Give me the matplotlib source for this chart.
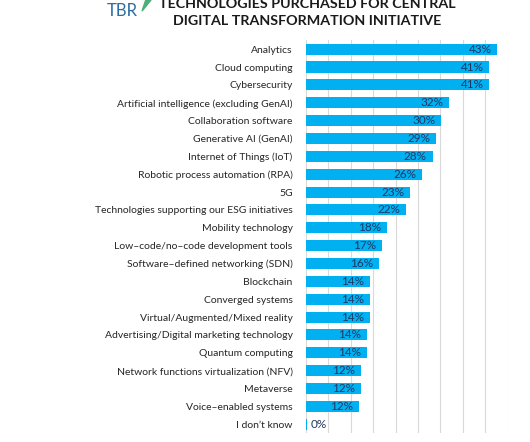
import matplotlib
matplotlib.use("Agg")
import matplotlib.pyplot as plt
from matplotlib.patches import Polygon

categories = [
    "Analytics", "Cloud computing", "Cybersecurity",
    "Artificial intelligence (excluding GenAI)", "Collaboration software",
    "Generative AI (GenAI)", "Internet of Things (IoT)",
    "Robotic process automation (RPA)", "5G",
    "Technologies supporting our ESG initiatives", "Mobility technology",
    "Low\u2013code/no\u2013code development tools",
    "Software\u2013defined networking (SDN)", "Blockchain", "Converged systems",
    "Virtual/Augmented/Mixed reality", "Advertising/Digital marketing technology",
    "Quantum computing", "Network functions virtualization (NFV)", "Metaverse",
    "Voice\u2013enabled systems", "I don\u2019t know",
]
values = [43, 41, 41, 32, 30, 29, 28, 26, 23, 22, 18, 17, 16, 14, 14, 14,
          14, 14, 12, 12, 12, 0]
# bar lengths drawn slightly differently from labels in source (rounding)
lengths = [42.7, 40.9, 40.9, 31.9, 30.2, 29.1, 28.3, 26.0, 23.2, 22.4, 18.0,
           17.0, 16.3, 14.2, 14.2, 14.2, 13.7, 13.7, 12.3, 12.3, 11.9, 0.2]

plt.rcParams["font.family"] = ["Lato", "DejaVu Sans"]

fig = plt.figure(figsize=(5.30, 4.42), dpi=100)
ax = fig.add_axes([0.577, 0.02, 0.381, 0.889])

y = list(range(len(categories)))
ax.barh(y, lengths, height=0.62, color="#00B0F0", zorder=3)
for yi, v, L in zip(y, values, lengths):
    if v == 0:
        ax.text(L + 0.9, yi, f"{v}%", va="center", ha="left",
                fontsize=8.5, color="#1F3864")
    else:
        ax.text(L - 1.3, yi, f"{v}%", va="center", ha="right",
                fontsize=8.5, color="#1F3864")

ax.set_xlim(0, 45)
ax.set_ylim(len(categories) - 0.5, -0.5)
ax.set_xticks(range(0, 46, 5))
ax.xaxis.grid(True, color="#D9D9D9", linewidth=0.8, zorder=0)
ax.tick_params(axis="x", bottom=False, labelbottom=False)
ax.tick_params(axis="y", left=False, pad=6)
ax.set_yticks(y)
ax.set_yticklabels(categories, fontsize=7.5, color="#262626")
for s in ax.spines.values():
    s.set_visible(False)

fig.text(0.58, 1.005, "TECHNOLOGIES PURCHASED FOR CENTRAL", ha="center",
         va="top", fontsize=10.3, fontweight="bold", color="#1a1a1a")
fig.text(0.58, 0.965, "DIGITAL TRANSFORMATION INITIATIVE", ha="center",
         va="top", fontsize=10.3, fontweight="bold", color="#1a1a1a")

# logo
fig.text(0.202, 0.957, "TBR", ha="left", va="bottom", fontsize=12,
         color="#2B6CA3")
fig.patches.append(Polygon([[0.268, 0.975], [0.285, 1.0], [0.275, 1.0]],
                           closed=True, transform=fig.transFigure,
                           color="#4CAF7A"))

fig.savefig("out.png", dpi=100)
